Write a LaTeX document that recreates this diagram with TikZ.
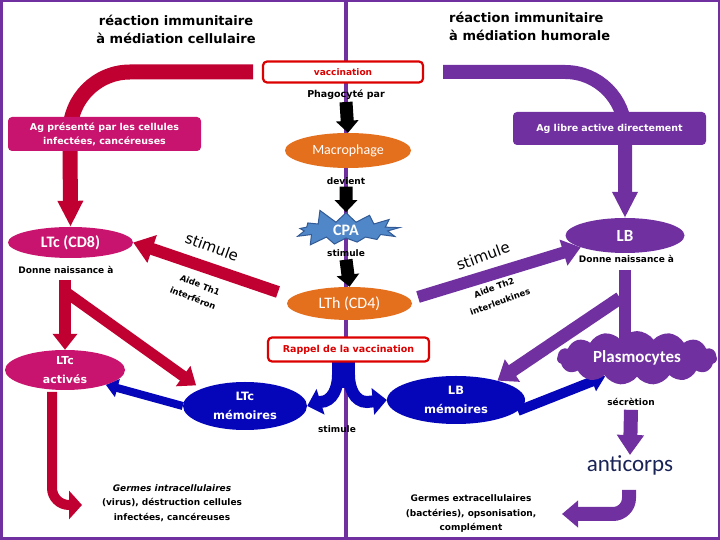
\documentclass[tikz,border=0pt]{standalone}
\usepackage{fontspec}
\setmainfont{DejaVu Sans}
\newfontfamily\comic{DejaVu Sans}
\newfontfamily\calib{Carlito}
\usetikzlibrary{arrows.meta,shapes.geometric,shapes.symbols}
\definecolor{dred}{RGB}{192,0,48}
\definecolor{mag}{RGB}{200,20,110}
\definecolor{purp}{RGB}{112,48,160}
\definecolor{dblue}{RGB}{5,5,185}
\definecolor{orng}{RGB}{228,112,30}
\definecolor{cpab}{RGB}{80,135,200}
\definecolor{cpae}{RGB}{50,90,150}
\definecolor{boxred}{RGB}{220,0,0}
\definecolor{navy}{RGB}{25,35,85}
\pgfdeclarelayer{bg}
\pgfdeclarelayer{paper}
\pgfsetlayers{paper,bg,main}
\tikzset{
  lbl/.style={font=\comic\bfseries\fontsize{9}{11}\selectfont, inner sep=0pt, align=center},
  titl/.style={font=\comic\bfseries\fontsize{13}{18}\selectfont, inner sep=0pt, align=center},
  ell/.style={ellipse, inner sep=0pt, text=white, align=center},
  redbox/.style={draw=boxred, line width=2.2pt, fill=white, rounded corners=4pt, inner sep=0pt, text=boxred, font=\comic\bfseries\fontsize{9}{11}\selectfont},
  tagbox/.style={rounded corners=4pt, inner sep=0pt, text=white, align=center, font=\comic\bfseries\fontsize{9.5}{14}\selectfont},
  blk/.style={line width=13pt, -{Triangle[width=22pt,length=12pt]}},
  rotlbl/.style={font=\comic\bfseries\fontsize{8.5}{10}\selectfont, inner sep=0pt},
}
\begin{document}
\begin{tikzpicture}[x=1pt,y=1pt]
\useasboundingbox (0,0) rectangle (720,540);
\begin{pgfonlayer}{paper}
\fill[white] (0,0) rectangle (720,540);
\end{pgfonlayer}

% titles
\node[titl] (t1) at (176,511) {réaction immunitaire\\à médiation cellulaire};
\node[titl, anchor=west, align=left] (t2) at (449,514) {réaction immunitaire\\à médiation humorale};

% central column
\node[redbox, minimum width=160pt, minimum height=21pt] (vac) at (343,468) {vaccination};
\node[lbl, font=\comic\bfseries\fontsize{9.5}{11}\selectfont] (phag) at (346,445) {Phagocyté par};
\node[ell, fill=orng, minimum width=126pt, minimum height=35pt, font=\calib\fontsize{14}{14}\selectfont] (macro) at (348,389.5) {Macrophage};
\node[lbl] (dev) at (346,359) {devient};
\node[starburst, starburst points=13, starburst point height=15pt, random starburst=5, fill=cpab, draw=cpae, line width=1pt, minimum width=114pt, minimum height=46pt, inner sep=0pt, text=white, font=\calib\bfseries\fontsize{16}{16}\selectfont] (cpa) at (346,310) {CPA};
\node[lbl] (stim1) at (346,287) {stimule};
\node[ell, fill=orng, minimum width=125pt, minimum height=33pt, font=\calib\fontsize{16}{16}\selectfont] (lth) at (349.5,236.5) {LTh (CD4)};
\node[redbox, minimum width=161pt, minimum height=24pt, font=\comic\bfseries\fontsize{9.5}{11}\selectfont] (rap) at (348.5,190.5) {Rappel de la vaccination};

% tag boxes
\node[tagbox, fill=mag, minimum width=193pt, minimum height=34pt] (agp) at (104.5,406) {Ag présenté par les cellules\\infectées, cancéreuses};
\node[tagbox, fill=purp, minimum width=193pt, minimum height=33pt] (agl) at (609.5,411.5) {Ag libre active directement};

% left cells
\node[ell, fill=mag, minimum width=125pt, minimum height=31pt, font=\calib\bfseries\fontsize{16}{16}\selectfont] (ltc) at (70.5,297.5) {LTc (CD8)};
\node[lbl] (dn1) at (66,270) {Donne naissance à};
\node[ell, fill=mag, minimum width=120pt, minimum height=40pt, font=\comic\bfseries\fontsize{11}{19}\selectfont] (ltca) at (65,170) {LTc\\activés};
\node[ell, fill=dblue, minimum width=124pt, minimum height=48pt, font=\comic\bfseries\fontsize{11.5}{19}\selectfont] (ltcm) at (245,134) {LTc\\mémoires};

% right cells
\node[ell, fill=purp, minimum width=119pt, minimum height=35pt, font=\calib\bfseries\fontsize{17}{17}\selectfont] (lb) at (625,304.5) {LB};
\node[lbl] (dn2) at (626.5,281) {Donne naissance à};
\node[ell, fill=dblue, minimum width=138pt, minimum height=48pt, font=\comic\bfseries\fontsize{11.5}{19}\selectfont] (lbm) at (456,140) {LB\\mémoires};
\node[cloud, cloud puffs=15, cloud puff arc=110, aspect=3, fill=purp, minimum width=160pt, minimum height=52pt, inner sep=0pt, text=white, font=\calib\bfseries\fontsize{17}{17}\selectfont] (plasmo) at (637,182) {Plasmocytes};
\node[lbl] (secr) at (631,138) {sécrètion};
\node[font=\calib\fontsize{23}{23}\selectfont, text=navy, inner sep=0pt] (anti) at (630,75) {anticorps};
\node[lbl] (stim2) at (337,111) {stimule};

% rotated labels
\node[font=\comic\fontsize{15}{15}\selectfont, rotate=-20, inner sep=0pt] (st1) at (212,293) {stimule};
\node[rotlbl, rotate=-22] (ai1a) at (200,255) {Aide Th1};
\node[rotlbl, rotate=-22] (ai1b) at (193,242) {interféron};
\node[font=\comic\fontsize{15}{15}\selectfont, rotate=20, inner sep=0pt] (st2) at (483,284) {stimule};
\node[rotlbl, rotate=20] (ai2a) at (494,252) {Aide Th2};
\node[rotlbl, rotate=20] (ai2b) at (500,238) {interleukines};

% outcomes
\node[lbl, font=\comic\bfseries\fontsize{9}{14.5}\selectfont] (gi) at (172,37) {\textit{Germes intracellulaires}\\(virus), déstruction cellules\\infectées, cancéreuses};
\node[lbl, font=\comic\bfseries\fontsize{9}{14.5}\selectfont] (ge) at (471,26) {Germes extracellulaires\\(bactéries), opsonisation,\\complément};

% free ends
\coordinate (rs) at (253,468);
\coordinate (ps) at (443,468);
\coordinate (r1) at (278,248);
\coordinate (p1) at (418,243);
\coordinate (r2) at (65,260);
\coordinate (r3) at (67,247);
\coordinate (r4) at (52,148);
\coordinate (r4e) at (82,35);
\coordinate (lbs) at (625,270);
\coordinate (p2) at (620,242);
\coordinate (p3) at (629,50);
\coordinate (p3e) at (562,26);

\begin{pgfonlayer}{bg}
\draw[purp, line width=4pt] (346,0) -- (346,540);
% big arrows
\draw[dred, line width=15pt, -{Triangle[width=24pt,length=26pt]}] (rs) -- (130,468) arc[start angle=90, end angle=180, radius=60] -- (ltc.north);
\draw[purp, line width=14pt, -{Triangle[width=24pt,length=26pt]}] (ps) -- (565,468) arc[start angle=90, end angle=0, radius=60] -- (lb.north);
% black column arrows
\draw[blk] (phag.south) ++(0,-2) -- (macro.north);
\draw[blk] (dev.south) ++(0,-2) -- (cpa.north);
\draw[blk] (stim1.south) ++(0,-3) -- (lth.north);
% LTh to LTc / LB
\draw[dred, line width=12pt, -{Triangle[width=28pt,length=20pt]}] (r1) -- (ltc.east);
\draw[purp, line width=12pt, -{Triangle[width=26pt,length=18pt]}] (p1) -- (lb.195);
% LTc lineage
\draw[dred, line width=12pt, -{Triangle[width=24pt,length=16pt]}] (r2) -- (ltca.north);
\draw[dred, line width=11pt, -{Triangle[width=24pt,length=16pt]}, shorten >=6pt] (r3) -- (ltcm.north west);
\draw[dred, line width=10pt, -{Triangle[width=28pt,length=13pt]}] (r4) -- (52,52) arc[start angle=180, end angle=270, radius=17] -- (r4e);
\draw[dblue, line width=8pt, -{Triangle[width=18pt,length=12pt]}] (ltcm.west) -- (ltca.-20);
% fork from rappel
\fill[dblue] (332,179) rectangle (355,152);
\draw[dblue, line width=12pt, -{Triangle[width=26pt,length=14pt]}] (338,165) to[out=-90,in=0] (320,138) -- (ltcm.east);
\draw[dblue, line width=12pt, -{Triangle[width=26pt,length=14pt]}] (349,165) to[out=-90,in=180] (367,138) -- (lbm.west);
% LB lineage
\draw[purp, line width=12pt] (lbs) -- (lbs |- plasmo.center);
\draw[purp, line width=13pt, -{Triangle[width=26pt,length=18pt]}] (p2) -- (lbm.25);
\draw[dblue, line width=10pt, -{Triangle[width=20pt,length=14pt]}] (lbm.-10) -- (plasmo.210);
\draw[purp, line width=14pt, -{Triangle[width=26pt,length=20pt]}] (secr.south) ++(0,-4) -- (anti.north);
\draw[purp, line width=14pt, -{Triangle[width=26pt,length=16pt]}] (p3) -- (629,42) arc[start angle=0, end angle=-90, radius=16] -- (p3e);
\end{pgfonlayer}
\draw[purp, line width=2.5pt] (1.25,1.25) rectangle (718.75,538.75);
\end{tikzpicture}
\end{document}
